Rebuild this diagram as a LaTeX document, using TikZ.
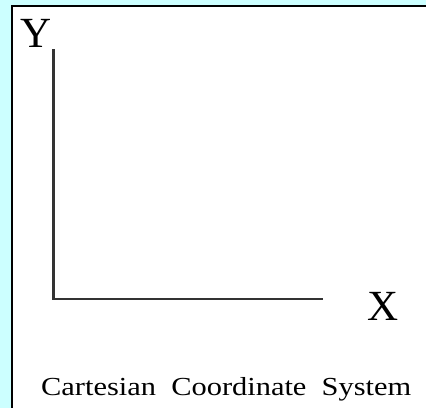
\documentclass[tikz,border=0pt]{standalone}
\usepackage{fontspec}
\setmainfont{Liberation Serif}
\definecolor{panelcyan}{RGB}{204,255,255}
\definecolor{axisgray}{RGB}{51,51,51}
\tikzset{
  axislabel/.style={anchor=base west, inner sep=0pt, font=\fontsize{43}{43}\selectfont},
  captiontext/.style={anchor=base west, inner sep=0pt, font=\fontsize{26}{26}\selectfont},
  axisline/.style={draw=axisgray, line width=2.2pt},
}
\begin{document}
\begin{tikzpicture}[x=1pt,y=-1pt]
\useasboundingbox (0,0) rectangle (426,408);
\fill[panelcyan] (0,0) rectangle (426,408);
\fill[white] (12,5.5) rectangle (426,408);
\fill[black] (11,4.5) rectangle (426,6.5);
\fill[black] (11,4.5) rectangle (13,408);
\node[axislabel] (ylab) at (20,47) {Y};
\node[axislabel] (xlab) at (367,320) {X};
\node[captiontext] (cap) at (41,395) {\scalebox{1.17}[1]{Cartesian\ \ Coordinate\ \ System}};
\coordinate (ytop) at (53.5,49);
\coordinate (origin) at (53.5,299);
\coordinate (xend) at (323,299);
\draw[axisline] (ytop) -- (origin) -- (xend);
\end{tikzpicture}
\end{document}
